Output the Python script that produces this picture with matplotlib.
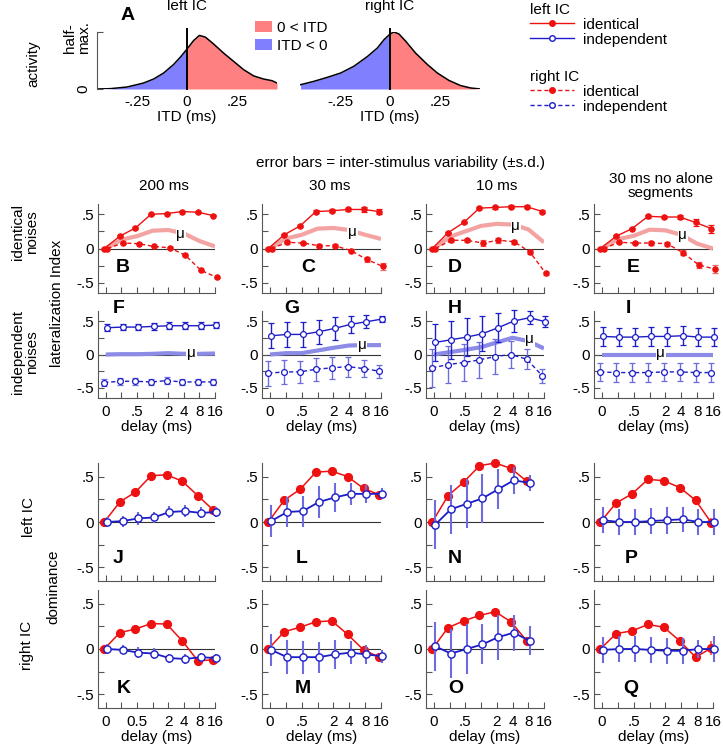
import numpy as np
import matplotlib
matplotlib.use("Agg")
import matplotlib.pyplot as plt
from matplotlib.lines import Line2D
from matplotlib.patches import Patch

plt.rcParams["font.family"] = ["Liberation Sans", "DejaVu Sans"]
plt.rcParams["font.size"] = 11

# ---------------- data ----------------
delays = [0, 0.25, 0.5, 1, 2, 4, 8, 16]
delay_labels = ["0", "", ".5", "", "2", "4", "8", "16"]
delay_labels_k = ["0", "", "0.5", "", "2", "4", "8", "16"]

# panel A: activity vs ITD
itd_left = [-0.45, -0.383, -0.30, -0.258, -0.217, -0.167, -0.117, -0.067, -0.033, 0.0,
            0.033, 0.062, 0.092, 0.133, 0.183, 0.233, 0.283, 0.333, 0.383, 0.425, 0.45]
act_left = [0.0, 0.006, 0.035, 0.07, 0.105, 0.175, 0.28, 0.43, 0.56, 0.70,
            0.85, 0.94, 0.91, 0.79, 0.63, 0.485, 0.34, 0.23, 0.175, 0.146, 0.105]
itd_right = [-0.447, -0.38, -0.313, -0.247, -0.18, -0.113, -0.063, -0.03, 0.0, 0.02,
             0.045, 0.078, 0.128, 0.187, 0.237, 0.295, 0.353, 0.403, 0.453]
act_right = [0.076, 0.135, 0.205, 0.28, 0.40, 0.57, 0.72, 0.865, 0.965, 1.0,
             0.965, 0.84, 0.63, 0.43, 0.28, 0.15, 0.06, 0.018, 0.0]

# lateralization index, identical noises (B-E)
B_left = [0, 0.18, 0.30, 0.50, 0.51, 0.54, 0.53, 0.48]
B_left_sd = [0, 0.01, 0.01, 0.01, 0.01, 0.01, 0.01, 0.01]
B_right = [0, 0.08, 0.07, 0.03, 0.01, -0.10, -0.32, -0.42]
B_right_sd = [0, 0.01, 0.01, 0.01, 0.01, 0.01, 0.01, 0.01]
B_mu = [0, 0.13, 0.18, 0.26, 0.27, 0.22, 0.11, 0.03]

C_left = [0, 0.20, 0.33, 0.54, 0.55, 0.57, 0.57, 0.54]
C_left_sd = [0, 0.01, 0.01, 0.02, 0.02, 0.02, 0.03, 0.03]
C_right = [0, 0.09, 0.08, 0.04, 0.04, -0.03, -0.16, -0.26]
C_right_sd = [0, 0.02, 0.02, 0.02, 0.02, 0.02, 0.04, 0.05]
C_mu = [0, 0.145, 0.20, 0.29, 0.30, 0.27, 0.20, 0.14]

D_left = [0, 0.23, 0.38, 0.59, 0.60, 0.61, 0.61, 0.54]
D_left_sd = [0, 0.01, 0.01, 0.02, 0.02, 0.02, 0.02, 0.02]
D_right = [0, 0.12, 0.12, 0.08, 0.12, 0.10, -0.05, -0.36]
D_right_sd = [0, 0.02, 0.02, 0.05, 0.04, 0.03, 0.03, 0.02]
D_mu = [0, 0.17, 0.25, 0.33, 0.36, 0.35, 0.28, 0.09]

E_left = [0, 0.18, 0.29, 0.47, 0.46, 0.46, 0.38, 0.29]
E_left_sd = [0, 0.01, 0.01, 0.02, 0.02, 0.03, 0.05, 0.06]
E_right = [0, 0.09, 0.08, 0.08, 0.07, -0.06, -0.24, -0.30]
E_right_sd = [0, 0.01, 0.01, 0.03, 0.03, 0.04, 0.05, 0.06]
E_mu = [0, 0.135, 0.185, 0.275, 0.265, 0.20, 0.07, 0.0]

# lateralization index, independent noises (F-I)
F_left = [0.40, 0.41, 0.41, 0.42, 0.43, 0.43, 0.43, 0.44]
F_left_sd = [0.05, 0.05, 0.05, 0.05, 0.05, 0.05, 0.05, 0.05]
F_right = [-0.42, -0.40, -0.40, -0.41, -0.39, -0.41, -0.41, -0.41]
F_right_sd = [0.05, 0.05, 0.05, 0.05, 0.05, 0.05, 0.05, 0.05]
F_mu = [0, 0.005, 0.005, 0.01, 0.02, 0.01, 0.01, 0.015]

G_left = [0.28, 0.30, 0.30, 0.34, 0.39, 0.45, 0.49, 0.53]
G_left_sd = [0.19, 0.19, 0.19, 0.18, 0.17, 0.13, 0.10, 0.05]
G_right = [-0.28, -0.26, -0.26, -0.22, -0.20, -0.18, -0.21, -0.25]
G_right_sd = [0.19, 0.18, 0.17, 0.17, 0.17, 0.15, 0.13, 0.10]
G_mu = [0, 0.02, 0.02, 0.06, 0.10, 0.135, 0.14, 0.14]

H_left = [0.18, 0.22, 0.26, 0.31, 0.40, 0.50, 0.55, 0.49]
H_left_sd = [0.28, 0.28, 0.28, 0.26, 0.22, 0.16, 0.10, 0.08]
H_right = [-0.20, -0.15, -0.12, -0.08, -0.03, 0.0, -0.07, -0.32]
H_right_sd = [0.28, 0.28, 0.28, 0.27, 0.26, 0.20, 0.15, 0.10]
H_mu = [0, 0.035, 0.07, 0.11, 0.18, 0.25, 0.20, 0.09]

I_left = [0.27, 0.26, 0.26, 0.27, 0.27, 0.28, 0.26, 0.26]
I_left_sd = [0.14, 0.14, 0.14, 0.14, 0.14, 0.14, 0.14, 0.14]
I_right = [-0.26, -0.27, -0.27, -0.27, -0.26, -0.26, -0.27, -0.27]
I_right_sd = [0.14, 0.14, 0.14, 0.14, 0.14, 0.14, 0.14, 0.14]
I_mu = [0, 0, 0, 0, 0, 0, 0, 0]

# dominance, left IC (J, L, N, P)
J_ident = [0, 0.22, 0.33, 0.51, 0.52, 0.45, 0.29, 0.13]
J_ident_sd = [0, 0, 0, 0, 0, 0, 0, 0]
J_indep = [0, 0.01, 0.04, 0.05, 0.11, 0.12, 0.10, 0.11]
J_indep_sd = [0.06, 0.06, 0.07, 0.06, 0.07, 0.07, 0.06, 0.05]

L_ident = [0, 0.24, 0.36, 0.55, 0.56, 0.50, 0.37, 0.30]
L_ident_sd = [0, 0, 0, 0, 0, 0, 0, 0]
L_indep = [0.01, 0.11, 0.12, 0.22, 0.27, 0.31, 0.31, 0.31]
L_indep_sd = [0.18, 0.17, 0.17, 0.18, 0.16, 0.12, 0.10, 0.06]

N_ident = [0, 0.29, 0.44, 0.62, 0.65, 0.59, 0.45]
N_ident_sd = [0, 0, 0, 0, 0, 0, 0]
N_indep = [-0.03, 0.14, 0.20, 0.26, 0.36, 0.46, 0.43]
N_indep_sd = [0.27, 0.27, 0.27, 0.27, 0.22, 0.15, 0.09]

P_ident = [0, 0.21, 0.31, 0.47, 0.455, 0.38, 0.24, -0.01]
P_ident_sd = [0, 0, 0, 0, 0, 0.02, 0.05, 0.05]
P_indep = [0.02, 0.0, 0.0, 0.01, 0.02, 0.03, 0.0, 0.0]
P_indep_sd = [0.14, 0.14, 0.14, 0.14, 0.15, 0.14, 0.14, 0.14]

# dominance, right IC (K, M, O, Q)
K_ident = [0, 0.18, 0.22, 0.28, 0.275, 0.09, -0.13, -0.12]
K_ident_sd = [0, 0, 0, 0, 0, 0, 0, 0]
K_indep = [0, -0.01, -0.04, -0.05, -0.10, -0.11, -0.09, -0.10]
K_indep_sd = [0.06, 0.05, 0.06, 0.06, 0.05, 0.06, 0.05, 0.04]

M_ident = [0, 0.19, 0.24, 0.30, 0.31, 0.16, -0.01, -0.09]
M_ident_sd = [0, 0, 0, 0, 0, 0, 0, 0.03]
M_indep = [-0.01, -0.09, -0.09, -0.09, -0.06, -0.04, -0.06, -0.08]
M_indep_sd = [0.18, 0.19, 0.18, 0.17, 0.16, 0.13, 0.10, 0.07]

O_ident = [0, 0.235, 0.31, 0.37, 0.41, 0.30, 0.09]
O_ident_sd = [0, 0, 0, 0.03, 0.03, 0, 0]
O_indep = [0.03, -0.05, 0.0, 0.05, 0.13, 0.18, 0.09]
O_indep_sd = [0.27, 0.27, 0.27, 0.22, 0.25, 0.20, 0.16]

Q_ident = [0, 0.17, 0.20, 0.27, 0.24, 0.09, -0.09, 0.01]
Q_ident_sd = [0, 0, 0, 0.03, 0, 0.03, 0.05, 0.08]
Q_indep = [-0.01, 0.0, 0.0, -0.01, -0.02, -0.02, 0.0, 0.0]
Q_indep_sd = [0.14, 0.14, 0.14, 0.14, 0.14, 0.14, 0.10, 0.14]

# ---------------- style ----------------
RED = "#ee1111"
RED_LIGHT = "#f06a6a"
RED_MU = "#f4a3a3"
BLUE = "#1c1cc8"
BLUE_LIGHT = "#6c6ce0"
BLUE_MU = "#8c8ce6"
SPINE = "#555555"
DASH = (0, (3, 2))

W, H = 723, 755
fig = plt.figure(figsize=(W / 100, H / 100), dpi=100)


def px_axes(x0, y0, x1, y1):
    return fig.add_axes([x0 / W, 1 - y1 / H, (x1 - x0) / W, (y1 - y0) / H])


def style(ax, xlabels=None):
    ax.set_xlim(-0.5, 7)
    ax.set_ylim(-0.65, 0.65)
    for s in ["top", "right"]:
        ax.spines[s].set_visible(False)
    for s in ["left", "bottom"]:
        ax.spines[s].set_color(SPINE)
        ax.spines[s].set_linewidth(0.8)
    ax.set_xticks(range(len(delays)))
    if xlabels is None:
        ax.set_xticklabels([""] * len(delays))
    else:
        ax.set_xticklabels(xlabels)
        ax.set_xlabel("delay (ms)", labelpad=1)
    ax.set_yticks([-0.5, 0, 0.5])
    ax.set_yticklabels(["-.5", "0", ".5"])
    ax.set_yticks([-0.25, 0.25], minor=True)
    ax.tick_params(which="both", direction="in", length=4, width=0.8, color=SPINE)
    ax.tick_params(axis="x", pad=5)
    ax.tick_params(axis="y", pad=3)
    ax.axhline(0, color="#333333", lw=0.8, zorder=1)


cols = [(98, 215), (262, 381), (426, 544), (594, 713)]
rows = {"ident": (204, 293), "indep": (311, 398), "left": (463, 581), "right": (590, 708)}

# ---------------- panel A ----------------
for (x0, x1), itd, act, title in [((97, 277), itd_left, act_left, "left IC"),
                                  ((300, 480), itd_right, act_right, "right IC")]:
    ax = px_axes(x0, 32, x1, 89)
    itd = np.array(itd)
    act = np.array(act)
    ax.fill_between(itd, act, where=itd >= 0, color="#ff8080", lw=0, interpolate=True)
    ax.fill_between(itd, act, where=itd <= 0, color="#8080ff", lw=0, interpolate=True)
    ax.plot(itd, act, color="black", lw=1.1)
    ax.plot([0, 0], [0, 1.05], color="black", lw=1.4, clip_on=False)
    ax.set_xlim(-0.45, 0.45)
    ax.set_ylim(0, 1)
    for s in ["top", "right", "bottom"]:
        ax.spines[s].set_visible(False)
    ax.set_xticks([-0.25, 0, 0.25])
    ax.set_xticklabels(["-.25", "0", ".25"])
    ax.tick_params(axis="x", length=0, pad=4)
    ax.set_xlabel("ITD (ms)", labelpad=1)
    ax.set_title(title, fontsize=11, pad=16)
    if title == "left IC":
        ax.spines["left"].set_color(SPINE)
        ax.set_yticks([0, 1])
        ax.set_yticklabels(["", ""])
        ax.tick_params(axis="y", direction="in", length=4, color=SPINE)
    else:
        ax.spines["left"].set_visible(False)
        ax.set_yticks([])

fig.text(83 / W, 1 - 89 / H, "0", rotation=90, ha="center", va="center")
fig.text(77 / W, 1 - 38 / H, "half-\nmax.", rotation=90, ha="center", va="center",
         linespacing=0.95)
fig.text(33 / W, 1 - 64 / H, "activity", rotation=90, ha="center", va="center")
fig.text(128 / W, 1 - 16 / H, "A", fontsize=14, fontweight="bold", ha="center", va="center")

fig.legend(handles=[Patch(fc="#ff8080", ec="none"), Patch(fc="#8080ff", ec="none")],
           labels=["0 < ITD", "ITD < 0"], loc="upper left",
           bbox_to_anchor=(255 / W, 1 - 21 / H), frameon=False, handlelength=1.1,
           handleheight=0.7, handletextpad=0.35, labelspacing=0.25, borderpad=0,
           borderaxespad=0, fontsize=11)

for title, ls, top in [("left IC", "-", 3), ("right IC", DASH, 70)]:
    hs = [Line2D([], [], color=RED, ls=ls, lw=1, marker="o", ms=4, mfc=RED, mec=RED),
          Line2D([], [], color=BLUE, ls=ls, lw=1, marker="o", ms=4, mfc="white", mec=BLUE)]
    fig.legend(handles=hs, labels=["identical", "independent"], title=title,
               loc="upper left", bbox_to_anchor=(530 / W, 1 - top / H), frameon=False,
               alignment="left", handlelength=2.9, handletextpad=0.6, labelspacing=0.05,
               borderpad=0, borderaxespad=0, fontsize=11, title_fontsize=11)

# ---------------- headers ----------------
fig.text(401 / W, 1 - 163 / H, "error bars = inter-stimulus variability (\u00b1s.d.)",
         ha="center", va="center")
for xc, t in zip([164, 330, 497, 661], ["200 ms", "30 ms", "10 ms", "30 ms no alone\nsegments"]):
    fig.text(xc / W, 1 - 186 / H, t, ha="center", va="center", linespacing=0.95)

fig.text(25 / W, 1 - 232 / H, "identical\nnoises", rotation=90, ha="center", va="center",
         linespacing=0.95)
fig.text(25 / W, 1 - 352 / H, "independent\nnoises", rotation=90, ha="center", va="center",
         linespacing=0.95)
fig.text(57 / W, 1 - 303 / H, "lateralization Index", rotation=90, ha="center", va="center")
fig.text(29 / W, 1 - 517 / H, "left IC", rotation=90, ha="center", va="center")
fig.text(27 / W, 1 - 645 / H, "right IC", rotation=90, ha="center", va="center")
fig.text(53 / W, 1 - 587 / H, "dominance", rotation=90, ha="center", va="center")

# ---------------- lateralization panels ----------------
lat_ident = [
    ("B", B_left, B_left_sd, B_right, B_right_sd, B_mu, (4.8, 0.21), (1.1, -0.28)),
    ("C", C_left, C_left_sd, C_right, C_right_sd, C_mu, (5.2, 0.24), (2.4, -0.28)),
    ("D", D_left, D_left_sd, D_right, D_right_sd, D_mu, (5.2, 0.33), (1.3, -0.28)),
    ("E", E_left, E_left_sd, E_right, E_right_sd, E_mu, (5.1, 0.2), (2.0, -0.28)),
]
lat_indep = [
    ("F", F_left, F_left_sd, F_right, F_right_sd, F_mu, (5.5, 0.02), (0.8, 0.68)),
    ("G", G_left, G_left_sd, G_right, G_right_sd, G_mu, (5.8, 0.14), (1.35, 0.68)),
    ("H", H_left, H_left_sd, H_right, H_right_sd, H_mu, (6.1, 0.23), (1.3, 0.68)),
    ("I", I_left, I_left_sd, I_right, I_right_sd, I_mu, (3.7, 0.02), (1.7, 0.68)),
]

for row, panels, filled in [("ident", lat_ident, True), ("indep", lat_indep, False)]:
    y0, y1 = rows[row]
    for (x0, x1), (letter, left, lsd, right, rsd, mu, mu_xy, let_xy) in zip(cols, panels):
        ax = px_axes(x0, y0, x1, y1)
        style(ax, delay_labels if row == "indep" else None)
        x = np.arange(len(left))
        color = RED if filled else BLUE
        light = RED_LIGHT if filled else BLUE_LIGHT
        ax.plot(np.arange(len(mu)), mu, color=RED_MU if filled else BLUE_MU, lw=3,
                solid_capstyle="butt", zorder=2)
        ax.text(mu_xy[0], mu_xy[1], "\u03bc", ha="center", va="center", zorder=3,
                bbox=dict(fc="white", ec="none", pad=0.6))
        off_l, off_r = (-0.1, 0.1) if filled else (0.08, -0.1)
        mk = dict(marker="o", ms=3.8 if filled else 4.2, mfc=color if filled else "white",
                  mec=color, mew=0.9)
        ax.errorbar(x + off_l, left, yerr=lsd, color=color, lw=1, ecolor=color,
                    elinewidth=1, capsize=2, capthick=1, clip_on=False, zorder=4, **mk)
        ax.errorbar(x + off_r, right, yerr=rsd, color=color, ls=DASH, lw=1, ecolor=light,
                    elinewidth=1, capsize=2, capthick=1, clip_on=False, zorder=4, **mk)
        ax.text(let_xy[0], let_xy[1], letter, fontsize=14, fontweight="bold",
                ha="center", va="center", clip_on=False, zorder=5)

# ---------------- dominance panels ----------------
dom_left = [
    ("J", J_ident, J_ident_sd, J_indep, J_indep_sd, (0.8, -0.4)),
    ("L", L_ident, L_ident_sd, L_indep, L_indep_sd, (2.0, -0.4)),
    ("N", N_ident, N_ident_sd, N_indep, N_indep_sd, (1.3, -0.4)),
    ("P", P_ident, P_ident_sd, P_indep, P_indep_sd, (1.85, -0.4)),
]
dom_right = [
    ("K", K_ident, K_ident_sd, K_indep, K_indep_sd, (1.15, -0.43)),
    ("M", M_ident, M_ident_sd, M_indep, M_indep_sd, (2.1, -0.43)),
    ("O", O_ident, O_ident_sd, O_indep, O_indep_sd, (1.4, -0.43)),
    ("Q", Q_ident, Q_ident_sd, Q_indep, Q_indep_sd, (1.85, -0.43)),
]

for row, panels in [("left", dom_left), ("right", dom_right)]:
    y0, y1 = rows[row]
    for i, ((x0, x1), (letter, ident, isd, indep, dsd, let_xy)) in enumerate(zip(cols, panels)):
        ax = px_axes(x0, y0, x1, y1)
        if row == "right":
            style(ax, delay_labels_k if i == 0 else delay_labels)
        else:
            style(ax)
        x = np.arange(len(ident))
        ax.errorbar(x - 0.1, ident, yerr=isd, color=RED, lw=1.1, ecolor=RED_LIGHT,
                    elinewidth=1.5, capsize=0, marker="o", ms=5.6, mfc=RED, mec=RED,
                    clip_on=False, zorder=3)
        ax.errorbar(x + 0.08, indep, yerr=dsd, color=BLUE, lw=1.3, ecolor=BLUE_LIGHT,
                    elinewidth=1.5, capsize=0, marker="o", ms=5.2, mfc="white", mec=BLUE,
                    mew=1, clip_on=False, zorder=4)
        ax.text(let_xy[0], let_xy[1], letter, fontsize=14, fontweight="bold",
                ha="center", va="center", clip_on=False, zorder=5)

fig.savefig("out.png", dpi=100)
